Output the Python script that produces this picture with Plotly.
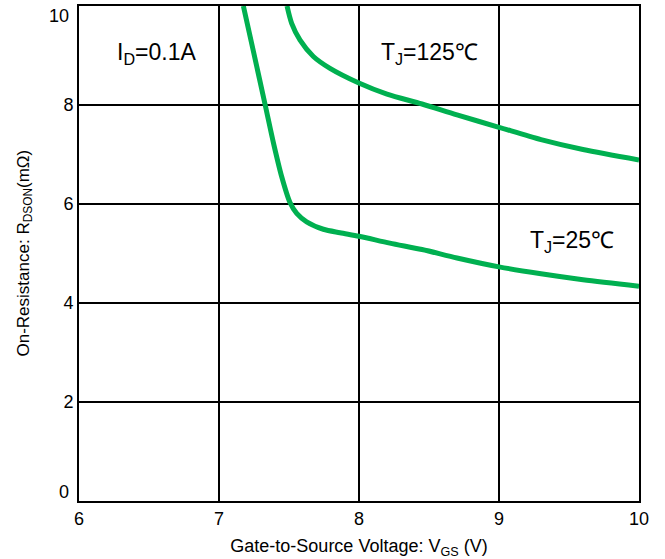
import plotly.graph_objects as go

vgs_25 = [7.174, 7.25, 7.33, 7.39, 7.448, 7.507, 7.555, 7.626, 7.745, 7.864, 8.0, 8.22, 8.45, 8.7, 9.0, 9.3, 9.6, 10.0]
r_25 = [10.0, 9.03, 8.0, 7.22, 6.55, 6.03, 5.81, 5.64, 5.49, 5.42, 5.35, 5.21, 5.08, 4.91, 4.73, 4.59, 4.47, 4.34]

vgs_125 = [7.486, 7.519, 7.579, 7.674, 7.793, 7.995, 8.2, 8.45, 8.7, 9.0, 9.3, 9.6, 10.0]
r_125 = [10.0, 9.65, 9.31, 8.98, 8.74, 8.45, 8.22, 8.02, 7.8, 7.55, 7.3, 7.1, 6.89]

x_ticks = [6, 7, 8, 9, 10]
y_ticks = [0, 2, 4, 6, 8, 10]

green = "#00B050"
fam = "Liberation Sans, Arial, sans-serif"
tick_font = dict(family=fam, size=18, color="black")
title_font_x = dict(family=fam, size=18, color="black")
title_font_y = dict(family=fam, size=17, color="black")
ann_font = dict(family=fam, size=23, color="black")

y_min, y_max = min(y_ticks), max(y_ticks)
inner_y = [v for v in y_ticks if v not in (y_min, y_max)]

fig = go.Figure()
fig.add_trace(go.Scatter(x=vgs_25, y=r_25, mode="lines", line=dict(color=green, width=5, shape="spline", smoothing=0.8), showlegend=False, hoverinfo="skip"))
fig.add_trace(go.Scatter(x=vgs_125, y=r_125, mode="lines", line=dict(color=green, width=5, shape="spline", smoothing=0.8), showlegend=False, hoverinfo="skip"))

annotations = [
    dict(x=6.55, y=9.05, text="I<sub>D</sub>=0.1A", showarrow=False, font=ann_font),
    dict(x=8.5, y=9.05, text="T<sub>J</sub>=125℃", showarrow=False, font=ann_font),
    dict(x=9.52, y=5.25, text="T<sub>J</sub>=25℃", showarrow=False, font=ann_font),
    # y-axis title, placed as in the reference
    dict(x=0, xref="paper", xanchor="center", xshift=-55, y=0.5, yref="paper", textangle=-90,
         text="On-Resistance: R<sub>DSON</sub>(mΩ)", showarrow=False, font=title_font_y),
]
# end tick labels of the y axis, kept inside the plot height as in the reference
for v, shift in ((y_max, -10), (y_min, 9)):
    annotations.append(dict(x=0, xref="paper", y=v, yref="y", text=str(v), showarrow=False,
                            xanchor="right", xshift=-8, yshift=shift, font=tick_font))

fig.update_layout(
    width=665, height=559,
    margin=dict(l=79, r=26, t=6, b=58),
    plot_bgcolor="white", paper_bgcolor="white",
    font=tick_font,
    xaxis=dict(range=[6, 10], tickvals=x_ticks, showgrid=True, gridcolor="black", gridwidth=2,
               showline=True, linecolor="black", linewidth=2, mirror=True, zeroline=False,
               ticks="", tickfont=tick_font, automargin=False,
               title=dict(text="Gate-to-Source Voltage: V<sub>GS</sub> (V)", font=title_font_x, standoff=12)),
    yaxis=dict(range=[y_min, y_max], tickvals=y_ticks, ticktext=[str(v) if v in inner_y else "" for v in y_ticks],
               showgrid=True, gridcolor="black", gridwidth=2,
               showline=True, linecolor="black", linewidth=2, mirror=True, zeroline=False,
               ticks="", tickfont=tick_font, automargin=False),
    annotations=annotations,
)

fig.write_html("out.html", post_script="document.body.style.margin='0';", config={"displayModeBar": False})
